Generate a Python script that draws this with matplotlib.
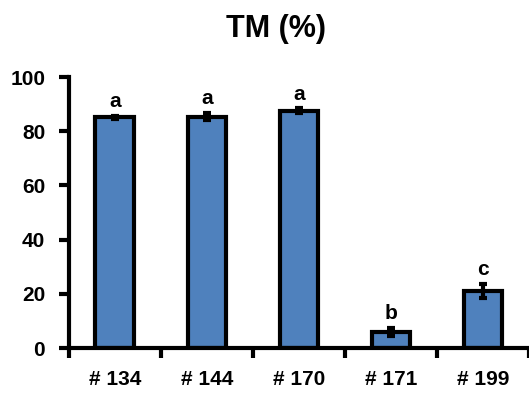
import matplotlib.pyplot as plt
import numpy as np

plt.rcParams['font.family'] = ['Liberation Sans', 'DejaVu Sans']
plt.rcParams['font.weight'] = 'bold'

labels = ['# 134', '# 144', '# 170', '# 171', '# 199']
values = [85.1, 85.4, 87.6, 5.8, 21.0]
errors = [0.5, 1.3, 0.8, 1.5, 2.7]
letters = ['a', 'a', 'a', 'b', 'c']

fig = plt.figure(figsize=(5.29, 3.93), dpi=100)
ax = fig.add_axes([0.130, 0.1145, 0.870, 0.6895])

x = np.arange(len(labels))
ax.bar(x, values, width=0.42, color='#4f81bd', edgecolor='black', linewidth=3,
       yerr=errors, error_kw=dict(ecolor='black', elinewidth=3, capsize=3, capthick=3),
       zorder=2)

for xi, v, e, t in zip(x, values, errors, letters):
    ax.text(xi, v + e + 1.8, t, ha='center', va='bottom', fontsize=15, fontweight='bold')

ax.set_xlim(-0.5, len(labels) - 0.5)
ax.set_ylim(0, 100)
ax.set_yticks([0, 20, 40, 60, 80, 100])
ax.set_xticks(x)
ax.set_xticklabels(labels)
ax.set_xticks(np.arange(len(labels) + 1) - 0.5, minor=True)
ax.tick_params(axis='x', which='major', length=0, pad=16, labelsize=15)
ax.tick_params(axis='x', which='minor', length=7, width=3, direction='out')
ax.tick_params(axis='y', length=7, width=3, direction='out', labelsize=15, pad=10)

for s in ['top', 'right']:
    ax.spines[s].set_visible(False)
ax.spines['left'].set_linewidth(3)
ax.spines['bottom'].set_linewidth(3)
ax.spines['bottom'].set_zorder(3)

fig.text(0.522, 0.926, 'TM (%)', ha='center', va='center', fontsize=22, fontweight='bold')

fig.savefig('out.png', dpi=100)
